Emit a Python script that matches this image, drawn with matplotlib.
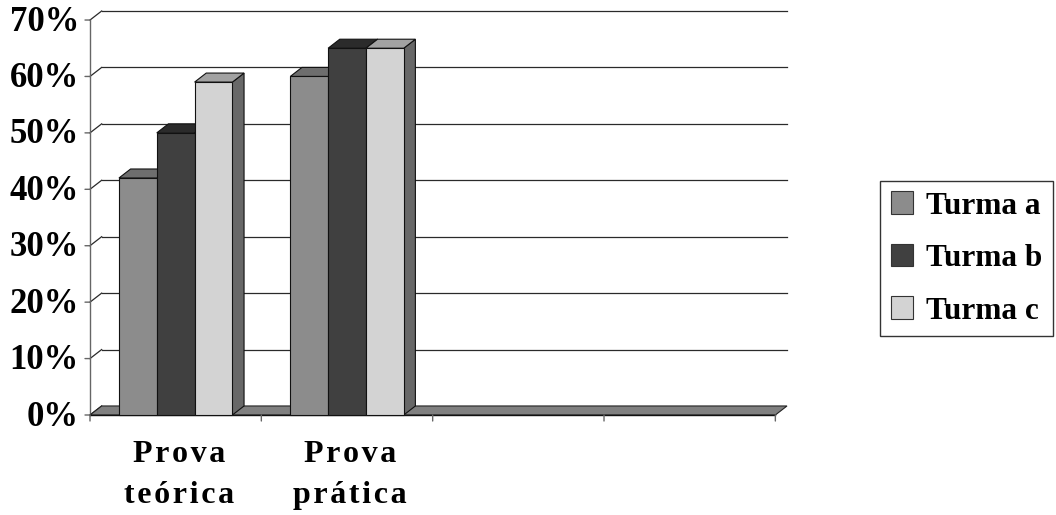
import matplotlib
matplotlib.use('Agg')
import matplotlib.pyplot as plt
from matplotlib.patches import Polygon, Patch
from matplotlib.font_manager import FontProperties
import matplotlib.transforms as mtransforms

# ---- data ----
categories = ['Prova\nteórica', 'Prova\nprática', '', '']
series = ['Turma a', 'Turma b', 'Turma c']
turma_a = [42, 60]
turma_b = [50, 65]
turma_c = [59, 65]
yticks = [0, 10, 20, 30, 40, 50, 60, 70]
ytick_labels = ['0%', '10%', '20%', '30%', '40%', '50%', '60%', '70%']

# ---- styles ----
front_colors = ['#8c8c8c', '#404040', '#d3d3d3']
top_colors = ['#6e6e6e', '#2b2b2b', '#a2a2a2']
side_colors = ['#5c5c5c', '#262626', '#686868']
edge = '#111111'
grid_c = '#2a2a2a'
SERIF = ['Liberation Serif', 'DejaVu Serif']

NCAT = len(categories)
YMAX = yticks[-1]
DX = 0.068   # depth offset (category units)
DY = 1.6     # depth offset (percent units)
GAP = 0.169  # gap at each side of a group
W = 0.2207   # bar width


def spaced(s):
    hair = '\u200a'
    return '\n'.join(hair.join(line) for line in s.split('\n'))


fig = plt.figure(figsize=(10.56, 5.15), dpi=100)
ax = fig.add_axes([90 / 1056, 100 / 515, 697 / 1056, 404 / 515])
ax.set_xlim(0, NCAT + DX)
ax.set_ylim(0, YMAX + DY)
ax.axis('off')

# back wall gridlines and left wall diagonals
for v in yticks:
    if v > 0:
        ax.plot([DX, NCAT + DX], [v + DY, v + DY], color=grid_c, lw=0.9, zorder=1, clip_on=False)
    ax.plot([0, DX], [v, v + DY], color=grid_c, lw=0.9, zorder=1, clip_on=False)

# front value axis line
ax.plot([0, 0], [0, YMAX], color='#666666', lw=1.0, zorder=1, clip_on=False)

# floor
floor = Polygon([(0, 0), (NCAT, 0), (NCAT + DX, DY), (DX, DY)], closed=True,
                facecolor='#808080', edgecolor='#222222', lw=0.8, zorder=2, clip_on=False)
ax.add_patch(floor)
ax.plot([0, NCAT], [0, 0], color='#111111', lw=1.0, zorder=2.5, clip_on=False)

# y tick marks and labels
lab_tr = mtransforms.offset_copy(ax.transData, fig=fig, x=-11, y=-2, units='dots')
for v, lab in zip(yticks, ytick_labels):
    ax.annotate('', xy=(0, v), xytext=(-5, 0), textcoords='offset pixels',
                xycoords='data', arrowprops=dict(arrowstyle='-', color='#666666', lw=1.0,
                                                 shrinkA=0, shrinkB=0))
    ax.text(0, v, lab, transform=lab_tr, ha='right', va='center',
            fontsize=25, fontweight='bold', family=SERIF, zorder=5)

# x ticks and category labels
for i in range(NCAT + 1):
    ax.annotate('', xy=(i, 0), xytext=(0, -6), textcoords='offset pixels',
                xycoords='data', arrowprops=dict(arrowstyle='-', color='#666666', lw=1.0,
                                                 shrinkA=0, shrinkB=0))
cat_tr = mtransforms.offset_copy(ax.transData, fig=fig, x=3, y=-25, units='dots')
for i, c in enumerate(categories):
    if c:
        ax.text(i + 0.5, 0, spaced(c), transform=cat_tr, ha='center', va='top',
                multialignment='center', linespacing=1.55,
                fontsize=23, fontweight='bold', family=SERIF)

# bars (3D look)
values = [turma_a, turma_b, turma_c]
z = 3
for i in range(len(turma_a)):
    for j, vals in enumerate(values):
        v = vals[i]
        x0 = i + GAP + j * W
        side = Polygon([(x0 + W, 0), (x0 + W + DX, DY), (x0 + W + DX, v + DY), (x0 + W, v)],
                       closed=True, facecolor=side_colors[j], edgecolor=edge, lw=0.8,
                       zorder=z, clip_on=False)
        top = Polygon([(x0, v), (x0 + W, v), (x0 + W + DX, v + DY), (x0 + DX, v + DY)],
                      closed=True, facecolor=top_colors[j], edgecolor=edge, lw=0.8,
                      zorder=z + 0.1, clip_on=False)
        front = Polygon([(x0, 0), (x0 + W, 0), (x0 + W, v), (x0, v)],
                        closed=True, facecolor=front_colors[j], edgecolor=edge, lw=0.8,
                        zorder=z + 0.2, clip_on=False)
        ax.add_patch(side)
        ax.add_patch(top)
        ax.add_patch(front)
        z += 1

# legend
handles = [Patch(facecolor=front_colors[j], edgecolor='#333333', lw=0.8) for j in range(3)]
leg = ax.legend(handles, series, loc='center left',
                bbox_to_anchor=(880 / 1056, 0.498), bbox_transform=fig.transFigure,
                frameon=True, fancybox=False, framealpha=1, edgecolor='#333333',
                prop=FontProperties(family=SERIF, weight='bold', size=22.5),
                handlelength=0.72, handleheight=0.72, handletextpad=0.4,
                labelspacing=0.75, borderpad=0.35, borderaxespad=0)
leg.get_frame().set_linewidth(1.0)

fig.savefig('out.png', dpi=100)
